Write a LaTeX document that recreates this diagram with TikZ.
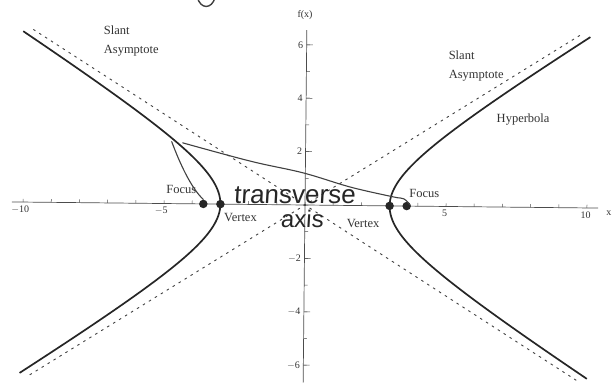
\documentclass[tikz,border=0pt]{standalone}
\usepackage{fontspec}
\setmainfont{Liberation Serif}
\newfontfamily\handfont[FakeSlant=0.06]{Liberation Sans}
\begin{document}
\begin{tikzpicture}[x=28.2pt,y=26.7pt,
  curve/.style={line width=1.7pt, color=black!85},
  asym/.style={line width=0.9pt, dash pattern=on 2.5pt off 4.5pt, color=black!75},
  axisline/.style={line width=0.7pt, color=black!70},
  tickline/.style={line width=0.5pt, color=black!70},
  lbl/.style={font=\fontsize{12.5}{19}\selectfont, text=black!80, inner sep=0pt, align=left},
  tlbl/.style={font=\fontsize{10}{12}\selectfont, text=black!80, inner sep=1pt},
  dot/.style={circle, fill=black!85, inner sep=0pt, minimum size=8.5pt},
  hand/.style={line width=1.1pt, color=black!75, line cap=round},
  handtxt/.style={font=\handfont\fontsize{26}{28}\selectfont, text=black!85, inner sep=0pt}]
\useasboundingbox (-10.816,-6.779) rectangle (10.922,7.678);
\begin{scope}[rotate=-0.6]
% axes
\coordinate (xl) at (-10.4,0);
\coordinate (xr) at (10.4,0);
\coordinate (yb) at (0,-6.65);
\coordinate (yt) at (0,6.55);
\draw[axisline] (xl) -- (xr);
\draw[axisline] (yb) -- (yt);
\foreach \i in {-10,...,10} \draw[tickline] (\i,0) -- ++(0,0.12);
\foreach \j in {-6,...,6} \draw[tickline] (0,\j) -- ++(0.12,0);
\foreach \j in {-6,-4,-2,2,4,6} \draw[tickline] (0,\j) -- ++(0.22,0);
\node[tlbl, anchor=north] at (-10.1,-0.1) {$-$10};
\node[tlbl, anchor=north] at (-5.1,-0.1) {$-$5};
\node[tlbl, anchor=north] at (4.95,-0.1) {5};
\node[tlbl, anchor=north] at (9.95,-0.1) {10};
\foreach \j in {-6,-4,-2} \node[tlbl, anchor=east] at (-0.08,\j) {$-$\the\numexpr-\j\relax};
\foreach \j in {2,4,6} \node[tlbl, anchor=east] at (-0.08,\j) {\j};
\node[tlbl] (fx) at (-0.07,7.1) {f(x)};
\node[tlbl] (xlab) at (10.78,-0.17) {x};
% asymptotes
\coordinate (a1) at (-9.7,6.47);
\coordinate (a2) at (9.7,-6.47);
\coordinate (a3) at (-9.7,-6.47);
\coordinate (a4) at (9.7,6.47);
\draw[asym] (a1) -- (a2);
\draw[asym] (a3) -- (a4);
% hyperbola
\draw[curve] plot[domain=-1.88:1.88, samples=80, smooth, variable=\t] ({3*cosh(\t)},{2*sinh(\t)});
\draw[curve] plot[domain=-1.88:1.88, samples=80, smooth, variable=\t] ({-3*cosh(\t)},{2*sinh(\t)});
% points
\node[dot] (vl) at (-3,0) {};
\node[dot] (vr) at (3,0) {};
\node[dot] (fl) at (-3.606,0) {};
\node[dot] (fr) at (3.606,0) {};
% labels
\node[lbl, anchor=west] (sl) at (-7.2,6.08) {Slant\\Asymptote};
\node[lbl, anchor=west] (sr) at (5.04,5.25) {Slant\\Asymptote};
\node[lbl, anchor=west] (hy) at (6.76,3.26) {Hyperbola};
\node[lbl, anchor=west] (flab) at (-4.93,0.54) {Focus};
\node[lbl, anchor=west] (frlab) at (3.69,0.47) {Focus};
\node[lbl, anchor=west] (vllab) at (-2.87,-0.5) {Vertex};
\node[lbl, anchor=west] (vrlab) at (1.48,-0.66) {Vertex};
% handwritten
\coordinate (p1) at (-4.75,2.32);
\coordinate (p2) at (-4.36,2.28);
\draw[hand] (p1) .. controls (-4.45,1.5) and (-4.05,0.6) .. (fl.north);
\draw[hand] plot[smooth, tension=0.6] coordinates {(p2) (-1.95,1.62) (-0.07,1.2) (1.6,0.69) (3.12,0.34) (3.5,0.27) (3.72,0.05)};
\draw[hand, line width=1.4pt] (-3.9,7.75) .. controls (-3.78,7.28) and (-3.38,7.28) .. (-3.26,7.75);
\node[handtxt, anchor=base] (tv) at (-0.37,0.06) {transverse};
\node[handtxt, anchor=base, font=\handfont\fontsize{24}{26}\selectfont] (ax) at (-0.1,-0.85) {axis};
\end{scope}
\end{tikzpicture}
\end{document}
